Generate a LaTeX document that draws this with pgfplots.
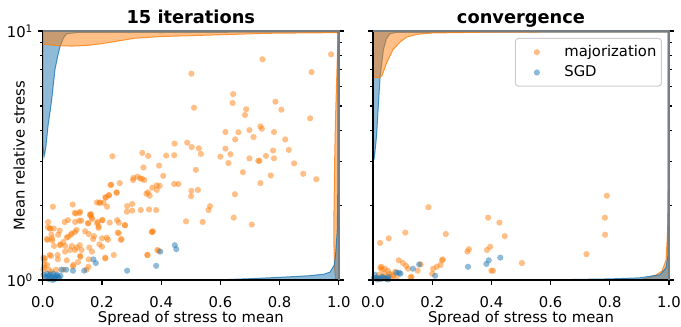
\documentclass[border=0pt]{standalone}
\usepackage{fontspec}
\setmainfont{DejaVu Sans}
\usepackage{pgfplots}
\pgfplotsset{compat=1.18}
\definecolor{mplorange}{HTML}{FF7F0E}
\definecolor{mplblue}{HTML}{1F77B4}
\definecolor{spinegray}{RGB}{118,126,132}
\definecolor{legendgray}{RGB}{204,204,204}

\pgfplotsset{
  panelstyle/.style={
    scale only axis, width=296bp, height=249bp,
    xmin=0, xmax=1, ymin=1, ymax=10,
    xtick={0,0.2,0.4,0.6,0.8,1}, xticklabels={0.0,0.2,0.4,0.6,0.8,1.0},
    ytick={1,10}, minor ytick={2,3,4,5,6,7,8,9},
    xtick pos=lower, ytick pos=both, tick align=outside,
    major tick length=4.9bp, minor tick length=2.8bp,
    every tick/.style={black, line width=1.1bp},
    axis line style={draw=none},
    clip mode=individual,
    tick label style={font=\fontsize{14.8bp}{17bp}\selectfont},
    label style={font=\fontsize{14.8bp}{17bp}\selectfont},
    xlabel={Spread of stress to mean},
    every axis x label/.style={at={(axis description cs:0.5,-0.171)}, anchor=base},
    xticklabel style={anchor=base, yshift=-22.7bp},
    every axis title/.style={font=\bfseries\fontsize{17.8bp}{20bp}\selectfont, at={(axis description cs:0.5,1)}, anchor=base, yshift=7bp},
  },
  orangepts/.style={only marks, mark=*, mark size=3.1bp, color=mplorange,
    mark options={draw=mplorange, draw opacity=0, fill=mplorange, fill opacity=0.5}},
  bluepts/.style={only marks, mark=*, mark size=3.1bp, color=mplblue,
    mark options={draw=mplblue, draw opacity=0, fill=mplblue, fill opacity=0.5}},
  orangekde/.style={fill=mplorange, fill opacity=0.5, draw=mplorange, draw opacity=0.8, line width=1bp, forget plot, mark=none},
  bluekde/.style={fill=mplblue, fill opacity=0.5, draw=mplblue, draw opacity=0.8, line width=1bp, forget plot, mark=none},
}

\begin{document}
\fontsize{14.8bp}{17bp}\selectfont
\begin{tikzpicture}
\path[use as bounding box] (0bp,0bp) rectangle (681bp,327bp);

% ---------------- left panel ----------------
\begin{axis}[ymode=log, panelstyle, at={(42.8bp,47bp)}, anchor=south west,
  title={15 iterations},
  ylabel={Mean relative stress},
  every axis y label/.style={at={(axis description cs:-0.061,0.5)}, rotate=90, anchor=base},
  yticklabels={10\textsuperscript{0},10\textsuperscript{1}},
]
\addplot[orangepts, forget plot] coordinates {
(0.974,8.06) (0.908,6.84) (0.742,7.70) (0.502,6.74) (0.511,4.92) (0.643,5.58) (0.641,5.14)
(0.687,4.85) (0.683,4.60) (0.786,5.20) (0.806,4.83) (0.903,4.46) (0.735,4.14) (0.740,4.05)
(0.698,4.00) (0.661,3.92) (0.617,3.93) (0.712,3.75) (0.650,3.67) (0.781,3.93) (0.819,3.67)
(0.831,3.33) (0.778,3.31) (0.617,3.37) (0.634,3.20) (0.600,3.13) (0.698,3.08) (0.754,3.15)
(0.781,3.08) (0.728,3.01) (0.732,3.01) (0.627,2.95) (0.849,2.94) (0.488,3.56) (0.503,3.42)
(0.527,3.38) (0.534,3.21) (0.445,3.53) (0.444,3.17) (0.417,3.16) (0.336,3.24) (0.356,3.15)
(0.235,3.14) (0.393,2.88) (0.340,2.83) (0.517,2.77)
(0.407,2.62) (0.444,2.43) (0.458,2.43) (0.395,2.39) (0.343,2.52) (0.329,2.56) (0.306,2.57)
(0.260,2.45) (0.229,2.41) (0.250,2.24) (0.224,2.19) (0.213,2.14) (0.191,2.04) (0.205,2.04)
(0.350,2.22) (0.361,2.18) (0.385,2.30) (0.501,2.17) (0.524,2.30) (0.502,2.28) (0.649,2.21)
(0.676,2.71) (0.735,2.45) (0.770,2.63) (0.880,2.67) (0.924,2.54) (0.284,1.88) (0.302,2.02)
(0.331,1.91) (0.359,1.92) (0.383,1.91) (0.278,1.66) (0.253,1.55) (0.264,1.45) (0.368,1.56)
(0.372,1.57) (0.354,1.26) (0.391,1.31) (0.484,1.72) (0.540,1.71) (0.560,1.91) (0.565,1.98)
(0.645,1.78) (0.706,1.67)
(0.018,1.71) (0.034,1.97) (0.101,2.01) (0.124,1.86) (0.108,1.86) (0.160,1.83) (0.163,1.84)
(0.167,1.76) (0.186,1.71) (0.202,1.74) (0.074,1.71) (0.085,1.74) (0.130,1.73) (0.152,1.69)
(0.189,1.64) (0.025,1.61) (0.017,1.63) (0.037,1.61) (0.057,1.58) (0.114,1.59) (0.143,1.57)
(0.155,1.53) (0.173,1.50) (0.200,1.47) (0.220,1.45) (0.095,1.52) (0.081,1.48) (0.014,1.46)
(0.032,1.44) (0.038,1.37) (0.060,1.39) (0.076,1.37) (0.098,1.37) (0.115,1.35) (0.131,1.32)
(0.125,1.38) (0.157,1.35) (0.191,1.39) (0.211,1.23) (0.028,1.25) (0.051,1.21) (0.081,1.20)
(0.127,1.24) (0.155,1.21) (0.102,1.135) (0.119,1.18) (0.002,1.23) (0.004,1.20) (0.005,1.15)
(0.004,1.12) (0.002,1.10) (0.014,1.15) (0.020,1.10) (0.030,1.08) (0.045,1.10) (0.148,1.10)
(0.024,1.61) (0.016,1.45) (0.007,1.22) (0.029,1.52) (0.031,1.47) (0.052,1.52) (0.058,1.38)
(0.069,1.42) (0.085,1.49) (0.098,1.54) (0.109,1.56) (0.112,1.85) (0.126,1.88) (0.109,1.71)
(0.123,1.73) (0.154,1.69) (0.160,1.82) (0.165,1.78) (0.183,1.69) (0.188,1.62) (0.200,1.74)
(0.183,2.05) (0.194,2.05) (0.211,2.15) (0.223,2.19) (0.231,2.41) (0.249,2.25) (0.217,1.97)
(0.226,1.70) (0.251,1.74) (0.257,1.70) (0.277,1.66) (0.257,1.54) (0.266,1.46) (0.240,1.26)
(0.211,1.22) (0.200,1.36) (0.216,1.48) (0.170,1.46) (0.166,1.30) (0.126,1.25) (0.109,1.32)
(0.092,1.32) (0.075,1.30) (0.050,1.26) (0.023,1.26) (0.103,1.15) (0.154,1.13) (0.070,1.10)
(0.285,1.98) (0.302,1.90) (0.370,1.56) (0.387,1.32) (0.353,1.26) (0.355,2.25) (0.370,2.35)
(0.385,2.40) (0.305,2.52) (0.320,2.60) (0.335,2.55)
};
\addplot[bluepts, forget plot] coordinates {
(0.446,1.38) (0.451,1.33) (0.397,1.30) (0.383,1.14) (0.285,1.09) (0.179,1.17) (0.171,1.21)
(0.140,1.09) (0.102,1.09) (0.079,1.10) (0.063,1.10)
(0.018,1.04) (0.025,1.05) (0.030,1.03) (0.035,1.06) (0.040,1.02) (0.045,1.04) (0.050,1.03)
(0.055,1.02) (0.012,1.02) (0.020,1.01) (0.008,1.03) (0.003,1.05) (0.060,1.04) (0.028,1.02)
(0.042,1.01) (0.015,1.06) (0.033,1.00) (0.048,1.05)
};
% top: x densities
\addplot[bluekde] coordinates {(0,10) (0,3.5) (0.004,3.13) (0.01,3.4) (0.018,4.2) (0.025,4.8) (0.03,5.3)
 (0.041,7.0) (0.05,7.9) (0.058,8.65) (0.07,9.4) (0.081,9.75) (0.12,9.87) (0.3,9.88) (0.4,9.86) (0.5,9.88) (1,9.9) (1,10) (0,10)};
\addplot[orangekde] coordinates {(0,10) (0,8.85) (0.03,8.78) (0.06,8.72) (0.1,8.70) (0.15,8.75) (0.2,8.9)
 (0.25,9.1) (0.31,9.35) (0.4,9.5) (0.54,9.61) (0.65,9.7) (0.76,9.79) (0.9,9.83) (1,9.85) (1,10) (0,10)};
% right: y densities
\addplot[orangekde] coordinates {(1,1) (0.99,1) (0.986,1.1) (0.984,1.3) (0.983,1.6) (0.984,2) (0.986,3)
 (0.989,4.5) (0.993,6.5) (0.996,8.5) (0.998,10) (1,10) (1,1)};
\addplot[bluekde] coordinates {(1,1) (0.58,1) (0.7,1.012) (0.8,1.025) (0.9,1.04) (0.95,1.055) (0.97,1.075)
 (0.985,1.15) (0.99,1.3) (0.995,1.6) (0.997,2.5) (0.997,4) (0.997,10) (1,10) (1,1)};
\draw[black, line width=1.1bp] (rel axis cs:0,1) -- (rel axis cs:0,0) -- (rel axis cs:1,0);
\draw[spinegray, line width=1.6bp] (rel axis cs:0,1) -- (rel axis cs:1,1) -- (rel axis cs:1,0);
\end{axis}

% ---------------- right panel ----------------
\begin{axis}[ymode=log, panelstyle, at={(373bp,47bp)}, anchor=south west,
  title={convergence},
  yticklabels={},
  legend style={at={(0.976,0.972)}, anchor=north east, draw=legendgray, line width=1bp,
    rounded corners=3bp, fill=white, fill opacity=0.8, text opacity=1, draw opacity=1,
    font=\fontsize{14.8bp}{17bp}\selectfont, inner xsep=3bp, inner ysep=5bp, row sep=3bp},
  legend cell align=left,
  legend image code/.code={\path (0bp,0bp) (43bp,0bp); \path[#1] plot coordinates {(18bp,0bp)};},
]
\addplot[orangepts] coordinates {
(0.790,2.18) (0.783,1.78) (0.784,1.52) (0.721,1.27) (0.187,1.96) (0.389,1.78) (0.427,1.70)
(0.445,1.50) (0.246,1.53) (0.109,1.55) (0.053,1.47) (0.024,1.41) (0.324,1.33) (0.319,1.30)
(0.385,1.32) (0.396,1.36) (0.503,1.17) (0.400,1.09) (0.405,1.09) (0.233,1.20) (0.228,1.15)
(0.215,1.13) (0.200,1.06) (0.127,1.025) (0.161,1.155) (0.151,1.09) (0.118,1.11) (0.087,1.20)
(0.101,1.17) (0.112,1.14) (0.025,1.12) (0.030,1.10) (0.028,1.13) (0.040,1.11) (0.050,1.09)
(0.055,1.06) (0.062,1.05) (0.068,1.04) (0.038,1.06) (0.020,1.05) (0.035,1.03) (0.045,1.02)
(0.015,1.02) (0.060,1.02) (0.075,1.08) (0.080,1.03) (0.130,1.03) (0.236,1.21) (0.203,1.11)
};
\addlegendentry{majorization}
\addplot[bluepts] coordinates {
(0.430,1.23) (0.391,1.20) (0.383,1.16) (0.321,1.13) (0.156,1.155) (0.135,1.11) (0.210,1.04)
(0.093,1.06) (0.079,1.07) (0.051,1.03) (0.006,1.05) (0.011,1.02) (0.020,1.015) (0.028,1.01)
(0.036,1.02) (0.045,1.01) (0.015,1.005) (0.030,1.03) (0.003,1.02) (0.052,1.005) (0.088,1.07)
};
\addlegendentry{SGD}
\addplot[bluekde] coordinates {(0,10) (0,3.4) (0.005,3.13) (0.012,3.8) (0.02,5.5) (0.024,6.56) (0.035,8.4)
 (0.045,9.3) (0.057,9.75) (0.08,9.88) (1,9.9) (1,10) (0,10)};
\addplot[orangekde] coordinates {(0,10) (0,6.5) (0.02,6.5) (0.03,6.6) (0.045,7.4) (0.067,8.4) (0.09,9.0)
 (0.114,9.46) (0.15,9.7) (0.2,9.82) (0.4,9.9) (1,9.93) (1,10) (0,10)};
\addplot[orangekde] coordinates {(1,1) (0.90,1) (0.93,1.02) (0.955,1.045) (0.976,1.086) (0.99,1.2)
 (0.995,1.55) (0.997,2.5) (0.997,10) (1,10) (1,1)};
\addplot[bluekde] coordinates {(1,1) (0.56,1) (0.8,1.01) (0.9,1.02) (0.97,1.05) (0.99,1.12) (0.996,1.25)
 (0.997,2) (0.997,10) (1,10) (1,1)};
\draw[black, line width=1.1bp] (rel axis cs:0,1) -- (rel axis cs:0,0) -- (rel axis cs:1,0);
\draw[spinegray, line width=1.6bp] (rel axis cs:0,1) -- (rel axis cs:1,1) -- (rel axis cs:1,0);
\end{axis}
\end{tikzpicture}
\end{document}
